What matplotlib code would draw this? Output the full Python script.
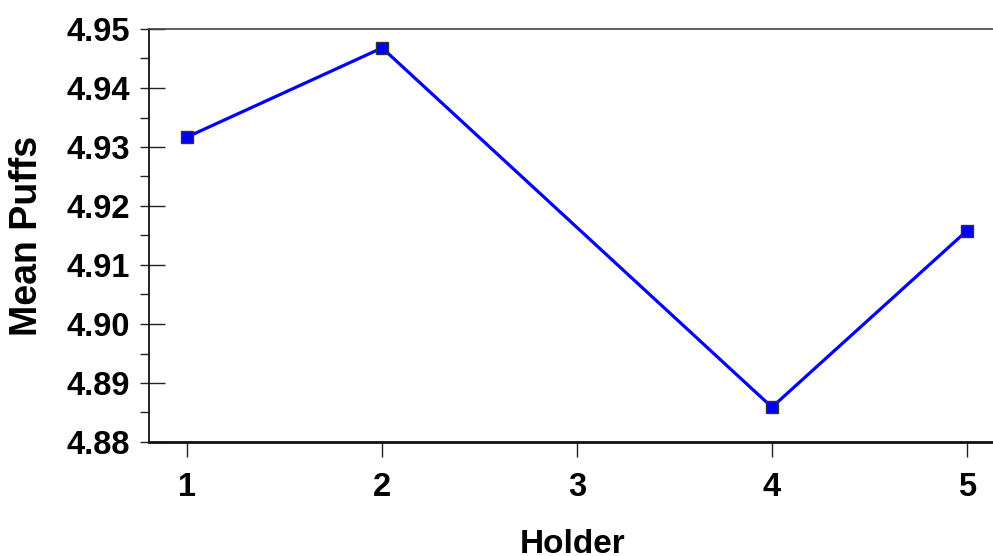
import matplotlib
matplotlib.use("Agg")
import matplotlib.pyplot as plt
from matplotlib.ticker import MultipleLocator

# data
holder = [1, 2, 4, 5]
mean_puffs = [4.9317, 4.9468, 4.8859, 4.9158]
x_ticks = [1, 2, 3, 4, 5]

plt.rcParams['font.family'] = ['Liberation Sans', 'DejaVu Sans']
plt.rcParams['font.weight'] = 'bold'

W, H = 993, 556
fig = plt.figure(figsize=(W / 100, H / 100), dpi=100)
ax = fig.add_axes([149 / W, (H - 442) / H, (W - 149) / W, (442 - 29) / H])

ax.plot(holder, mean_puffs, color='#0000ff', lw=2.3, marker='s', markersize=8.5,
        markerfacecolor='#0000ff', markeredgecolor='#333333', markeredgewidth=1.0,
        solid_joinstyle='miter')

ax.set_xlim(0.804, 5.134)
ax.set_ylim(4.88, 4.95)
ax.set_xticks(x_ticks)
ax.set_xticklabels([str(t) for t in x_ticks])
ax.yaxis.set_major_locator(MultipleLocator(0.01))
ax.yaxis.set_minor_locator(MultipleLocator(0.005))
ax.yaxis.remove_overlapping_locs = False
ax.yaxis.set_major_formatter(matplotlib.ticker.FormatStrFormatter('%.2f'))

ax.tick_params(axis='y', which='major', direction='in', length=11.5, width=1.0,
               pad=14, labelsize=23.5, color='#222222')
ax.tick_params(axis='y', which='minor', direction='out', length=6.5, width=1.0,
               color='#222222')
ax.tick_params(axis='x', which='major', direction='out', length=10.8, width=1.0,
               pad=11, labelsize=23.5, color='#222222')
ax.tick_params(axis='x', which='minor', bottom=False)

for lab in ax.get_xticklabels() + ax.get_yticklabels():
    lab.set_fontweight('bold')

ax.spines['right'].set_visible(False)
ax.spines['top'].set_color('#444444')
ax.spines['top'].set_linewidth(1.2)
ax.spines['left'].set_color('#111111')
ax.spines['left'].set_linewidth(1.3)
ax.spines['bottom'].set_color('#111111')
ax.spines['bottom'].set_linewidth(2.0)

fig.text(573 / W, 1 - 553 / H, 'Holder', ha='center', va='baseline',
         fontsize=24, fontweight='bold')
fig.text(37 / W, 1 - 236 / H, 'Mean Puffs', ha='center', va='baseline',
         rotation=90, rotation_mode='anchor', fontsize=27, fontweight='bold')

fig.savefig('out.png', dpi=100)
